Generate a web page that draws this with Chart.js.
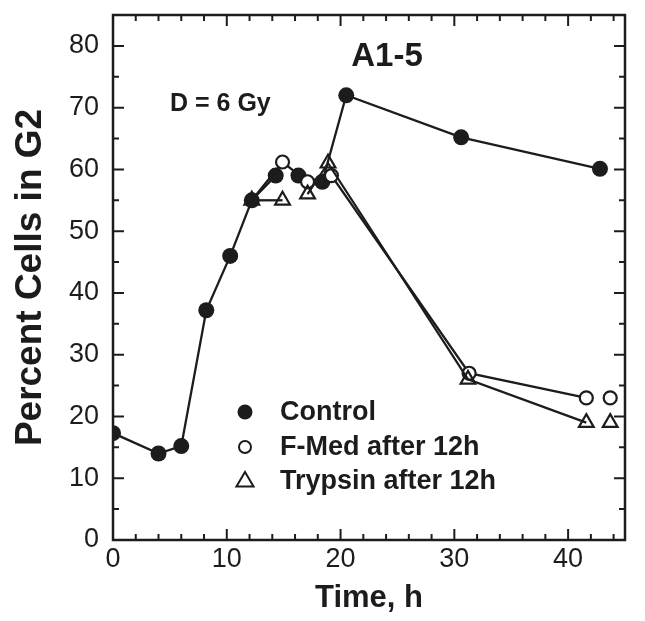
<!DOCTYPE html>
<html>
<head>
<meta charset="utf-8">
<script src="https://cdn.jsdelivr.net/npm/chart.js@4.4.1/dist/chart.umd.min.js"></script>
<style>
html,body{margin:0;padding:0;background:#fff;}
#wrap{width:645px;height:621px;position:relative;}
</style>
</head>
<body>
<div id="wrap"><canvas id="c" width="645" height="621"></canvas></div>
<script>
// ---- data ----
const controlX = [0, 4, 6, 8.2, 10.3, 12.2, 14.3, 16.3, 18.4, 20.5, 30.6, 42.8];
const controlY = [17.3, 14, 15.2, 37.2, 46, 55, 59, 59, 58, 72, 65.2, 60.1];
const fmedX = [12.2, 14.9, 17.1, 19.2, 31.3, 41.6, 43.7];
const fmedY = [55, 61.2, 58, 59, 27, 23, 23];
const trypX = [12.2, 14.9, 17.1, 18.9, 31.2, 41.6, 43.7];
const trypY = [55, 55, 56, 61, 26, 19, 19];
// segments (start index) not joined by a line
const controlBreaks = [6];
const fmedBreaks = [5];
const trypBreaks = [1, 5];
const xTickLabels = [0, 10, 20, 30, 40];
const yTickLabels = [0, 10, 20, 30, 40, 50, 60, 70, 80];
const xMinorTicks = [];
for (let v = 0; v <= 44; v += 2) xMinorTicks.push(v);
const yMinorTicks = [];
for (let v = 0; v <= 85; v += 5) yMinorTicks.push(v);
const legendLabels = ['Control', 'F-Med after 12h', 'Trypsin after 12h'];
const panelTitle = 'A1-5';
const doseLabel = 'D = 6 Gy';

const pts = (xs, ys) => xs.map((x, i) => ({x: x, y: ys[i]}));
const INK = '#1c1c1c';
const segColor = breaks => ctx => breaks.includes(ctx.p0DataIndex) ? 'rgba(0,0,0,0)' : INK;
const FAM = '"Liberation Sans", Arial, sans-serif';

const framePlugin = {
  id: 'frame',
  afterDraw(chart) {
    const {ctx, chartArea: a, scales: {x, y}} = chart;
    ctx.save();
    ctx.strokeStyle = INK;
    ctx.lineWidth = 2.5;
    ctx.strokeRect(a.left, a.top, a.right - a.left, a.bottom - a.top);
    ctx.lineWidth = 2;
    ctx.beginPath();
    xMinorTicks.forEach(v => {
      const px = x.getPixelForValue(v);
      const len = v % 10 === 0 ? 11 : 6;
      ctx.moveTo(px, a.bottom); ctx.lineTo(px, a.bottom - len);
      ctx.moveTo(px, a.top); ctx.lineTo(px, a.top + len);
    });
    yMinorTicks.forEach(v => {
      const py = y.getPixelForValue(v);
      const len = v % 10 === 0 ? 11 : 6;
      ctx.moveTo(a.left, py); ctx.lineTo(a.left + len, py);
      ctx.moveTo(a.right, py); ctx.lineTo(a.right - len, py);
    });
    ctx.stroke();

    // annotations
    ctx.fillStyle = INK;
    ctx.textBaseline = 'middle';
    ctx.textAlign = 'center';
    ctx.font = 'bold 33px ' + FAM;
    ctx.fillText(panelTitle, 387, 57);
    ctx.font = 'bold 25px ' + FAM;
    ctx.textAlign = 'left';
    ctx.fillText(doseLabel, 170, 104);

    // legend
    const rows = [412, 447, 481];
    const mx = 245, tx = 280;
    ctx.font = 'bold 27px ' + FAM;
    ctx.textAlign = 'left';
    legendLabels.forEach((t, i) => ctx.fillText(t, tx, rows[i] + 1));
    ctx.lineWidth = 2;
    ctx.beginPath(); ctx.arc(mx, rows[0], 7.5, 0, Math.PI * 2); ctx.fill();
    ctx.beginPath(); ctx.arc(mx, rows[1], 6, 0, Math.PI * 2); ctx.stroke();
    const r = 9;
    ctx.beginPath();
    ctx.moveTo(mx, rows[2] - r);
    ctx.lineTo(mx + r * 0.95, rows[2] + r * 0.6);
    ctx.lineTo(mx - r * 0.95, rows[2] + r * 0.6);
    ctx.closePath(); ctx.stroke();
    ctx.restore();
  }
};

new Chart(document.getElementById('c'), {
  type: 'scatter',
  data: {
    datasets: [
      {
        label: legendLabels[2],
        data: pts(trypX, trypY),
        showLine: true,
        borderColor: INK,
        borderWidth: 2.3,
        pointStyle: 'triangle',
        pointRadius: 8.5,
        pointBorderWidth: 2.2,
        pointBackgroundColor: 'rgba(255,255,255,0)',
        pointBorderColor: INK,
        segment: {borderColor: segColor(trypBreaks)},
        order: 1
      },
      {
        label: legendLabels[1],
        data: pts(fmedX, fmedY),
        showLine: true,
        borderColor: INK,
        borderWidth: 2.3,
        pointStyle: 'circle',
        pointRadius: fmedX.map((v, i) => i === 0 ? 0 : 6.5),
        pointBorderWidth: 2.2,
        pointBackgroundColor: '#ffffff',
        pointBorderColor: INK,
        segment: {borderColor: segColor(fmedBreaks)},
        order: 2
      },
      {
        label: legendLabels[0],
        data: pts(controlX, controlY),
        showLine: true,
        borderColor: INK,
        borderWidth: 2.3,
        pointStyle: 'circle',
        pointRadius: 8,
        pointBorderWidth: 0,
        pointBackgroundColor: INK,
        pointBorderColor: INK,
        segment: {borderColor: segColor(controlBreaks)},
        order: 3
      }
    ]
  },
  options: {
    responsive: false,
    animation: false,
    events: [],
    layout: {padding: {left: 0, right: 20, top: 15, bottom: 0}},
    plugins: {legend: {display: false}, tooltip: {enabled: false}},
    scales: {
      x: {
        type: 'linear', min: 0, max: 45,
        afterBuildTicks: s => { s.ticks = xTickLabels.map(v => ({value: v})); },
        afterFit: s => { s.height = 81; s.paddingLeft = 0; s.paddingRight = 0; },
        grid: {display: false, drawTicks: false},
        border: {display: false},
        ticks: {color: INK, padding: 3, maxRotation: 0,
          font: {family: FAM, size: 27}},
        title: {display: true, text: 'Time, h', color: INK,
          padding: {top: 0, bottom: 4},
          font: {family: FAM, size: 31, weight: 'bold'}}
      },
      y: {
        type: 'linear', min: 0, max: 85,
        afterBuildTicks: s => { s.ticks = yTickLabels.map(v => ({value: v})); },
        afterFit: s => { s.width = 113; s.paddingTop = 0; s.paddingBottom = 0; },
        grid: {display: false, drawTicks: false},
        border: {display: false},
        ticks: {color: INK, padding: 14,
          font: {family: FAM, size: 27}},
        title: {display: true, text: 'Percent Cells in G2', color: INK,
          padding: {top: 9, bottom: 0},
          font: {family: FAM, size: 37, weight: 'bold'}}
      }
    }
  },
  plugins: [framePlugin]
});
</script>
</body>
</html>
